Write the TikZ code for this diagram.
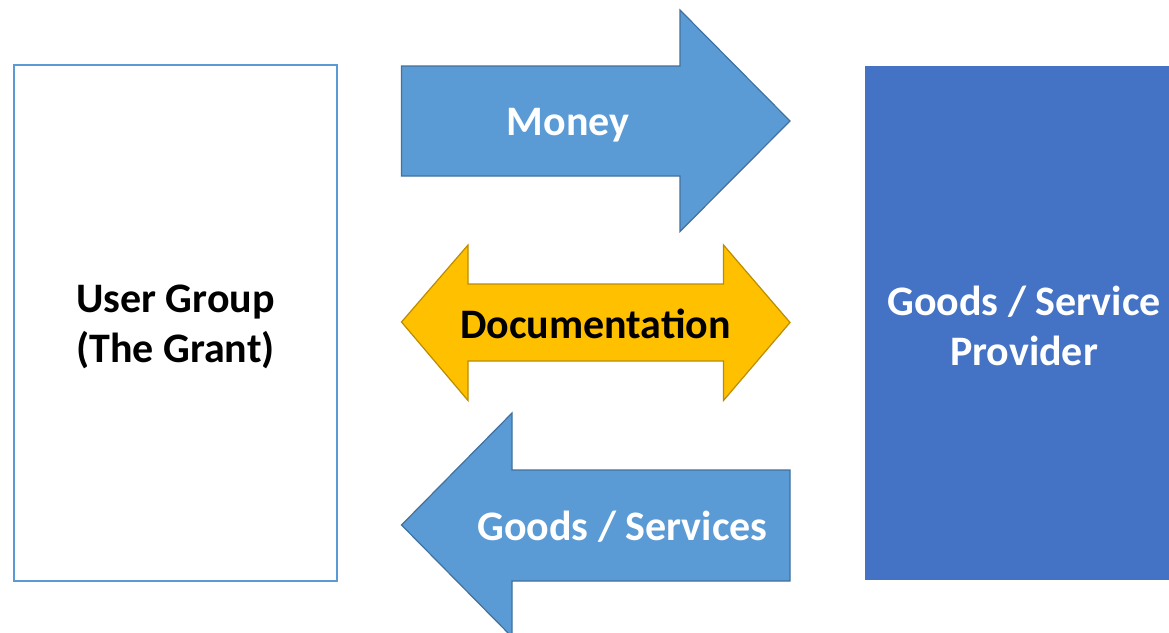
\documentclass[tikz,border=0pt]{standalone}
\usepackage{fontspec}
\setmainfont{Carlito}
\definecolor{arrowblue}{HTML}{5B9BD5}
\definecolor{arrowedge}{HTML}{41719C}
\definecolor{docyellow}{HTML}{FFC000}
\definecolor{docedge}{HTML}{BC8C00}
\definecolor{provblue}{HTML}{4472C4}
\tikzset{
  label41/.style={font=\fontsize{42}{50}\selectfont\bfseries, align=center, inner sep=0pt},
  bluearrow/.style={fill=arrowblue, draw=arrowedge, line width=1.2pt, line join=miter},
  yellowarrow/.style={fill=docyellow, draw=docedge, line width=1.2pt, line join=miter},
}
\begin{document}
\begin{tikzpicture}[x=1pt, y=-1pt]
  \clip (0,0) rectangle (1169,632);
  \fill[white] (0,0) rectangle (1169,632);

  % user group box
  \draw[arrowblue, line width=2.2pt, fill=white] (14,65) rectangle (337,581);
  \node[label41, text=black] (user) at (175.5,327) {User Group\\(The Grant)};

  % provider box (runs past the right edge)
  \fill[provblue] (865,66) rectangle (1183,580);
  \node[label41, text=white] (provider) at (1024,326) {Goods / Service\\Provider};

  % money arrow, pointing right
  \path[bluearrow] (401.5,66) -- (680,66) -- (680,10) -- (790,121)
        -- (680,231.5) -- (680,176) -- (401.5,176) -- cycle;
  \node[label41, text=white] (money) at (568,125) {Money};

  % documentation arrow, pointing both ways
  \path[yellowarrow] (401.5,322) -- (468,245) -- (468,284) -- (723.5,284)
        -- (723.5,245) -- (790,322.5) -- (723.5,400.5) -- (723.5,361)
        -- (468,361) -- (468,400.5) -- cycle;
  \node[label41, text=black] (doc) at (595.5,324) {Documentation};

  % goods / services arrow, pointing left
  \path[bluearrow] (401.5,525) -- (512,413) -- (512,470) -- (790,470)
        -- (790,581) -- (512,581) -- (512,637) -- cycle;
  \node[label41, text=white] (goods) at (622.5,527) {Goods / Services};
\end{tikzpicture}
\end{document}
